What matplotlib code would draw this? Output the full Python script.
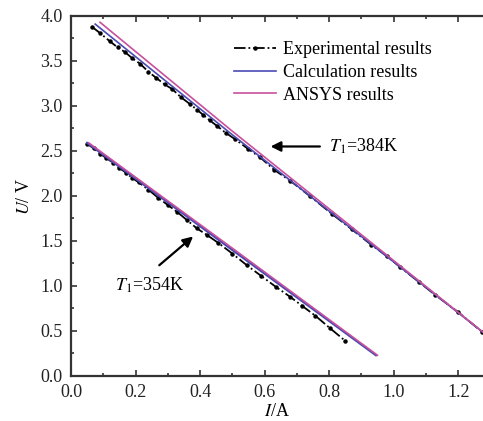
import matplotlib
matplotlib.use("Agg")
import matplotlib.pyplot as plt
from matplotlib.ticker import MultipleLocator

plt.rcParams['font.family'] = ['Liberation Serif', 'DejaVu Serif']
plt.rcParams['mathtext.fontset'] = 'stix'

# T1 = 384K
exp384_i = [0.065, 0.09, 0.12, 0.145, 0.167, 0.19, 0.214, 0.24, 0.265, 0.29, 0.313,
            0.34, 0.369, 0.39, 0.41, 0.43, 0.452, 0.48, 0.509, 0.55, 0.586, 0.63,
            0.679, 0.74, 0.809, 0.87, 0.93, 0.98, 1.02, 1.08, 1.129, 1.2, 1.274]
exp384_u = [3.88, 3.81, 3.72, 3.65, 3.60, 3.53, 3.47, 3.38, 3.31, 3.24, 3.19,
            3.10, 3.02, 2.96, 2.90, 2.84, 2.78, 2.70, 2.63, 2.52, 2.43, 2.29,
            2.17, 2.00, 1.80, 1.63, 1.46, 1.33, 1.21, 1.04, 0.90, 0.71, 0.49]
calc384_i = [0.075, 0.5, 0.9, 1.3]
calc384_u = [3.91, 2.68, 1.55, 0.42]
ansys384_i = [0.09, 0.5, 0.9, 1.3]
ansys384_u = [3.93, 2.72, 1.57, 0.42]

# T1 = 354K
exp354_i = [0.05, 0.07, 0.09, 0.11, 0.13, 0.15, 0.17, 0.19, 0.21, 0.24, 0.27, 0.30,
            0.33, 0.36, 0.39, 0.42, 0.456, 0.50, 0.545, 0.59, 0.635, 0.679, 0.716,
            0.757, 0.803, 0.85]
exp354_u = [2.58, 2.53, 2.47, 2.42, 2.37, 2.31, 2.26, 2.20, 2.15, 2.07, 1.98, 1.90,
            1.82, 1.73, 1.64, 1.57, 1.48, 1.36, 1.23, 1.11, 0.99, 0.88, 0.78,
            0.67, 0.53, 0.39]
calc354_i = [0.05, 0.5, 0.945]
calc354_u = [2.59, 1.40, 0.23]
ansys354_i = [0.055, 0.5, 0.95]
ansys354_u = [2.59, 1.42, 0.23]

blue = '#4a4ab4'
pink = '#c8509c'
dark = '#333333'

fig = plt.figure(figsize=(4.83, 4.21), dpi=100)
ax = fig.add_axes([0.147, 0.107, 0.853, 0.855])

ax.plot(exp384_i, exp384_u, color='black', ls='-.', lw=1.3, marker='o', ms=2.2,
        label='Experimental results')
ax.plot(calc384_i, calc384_u, color=blue, lw=1.2, label='Calculation results')
ax.plot(ansys384_i, ansys384_u, color=pink, lw=1.2, label='ANSYS results')
ax.plot(exp354_i, exp354_u, color='black', ls='-.', lw=1.3, marker='o', ms=2.2)
ax.plot(calc354_i, calc354_u, color=blue, lw=1.6)
ax.plot(ansys354_i, ansys354_u, color=pink, lw=1.2)

ax.set_xlim(0, 1.277)
ax.set_ylim(0, 4.0)
ax.xaxis.set_major_locator(MultipleLocator(0.2))
ax.xaxis.set_minor_locator(MultipleLocator(0.1))
ax.yaxis.set_major_locator(MultipleLocator(0.5))
ax.yaxis.set_minor_locator(MultipleLocator(0.25))
ax.tick_params(which='both', direction='in', top=True, right=False, labelsize=13,
               width=1.2, color=dark, labelcolor='#222222')
ax.tick_params(which='major', length=4.5)
ax.tick_params(which='minor', length=2.5)
ax.tick_params(axis='x', pad=6)
ax.tick_params(axis='y', pad=6)
for s in ['left', 'bottom', 'top']:
    ax.spines[s].set_linewidth(1.6)
    ax.spines[s].set_color(dark)
ax.spines['right'].set_visible(False)

ax.set_xlabel('$I$/A', fontsize=13, labelpad=1)
ax.set_ylabel('$U$/ V', fontsize=13, labelpad=5)

ax.legend(loc='upper right', bbox_to_anchor=(0.915, 0.975), frameon=False, fontsize=13,
          handlelength=2.3, handletextpad=0.4, labelspacing=0.32)

ax.annotate('', xy=(0.61, 2.55), xytext=(0.78, 2.55),
            arrowprops=dict(arrowstyle='-|>', color='black', lw=1.6, mutation_scale=15))
ax.text(0.80, 2.55, '$T_1$=384K', fontsize=13, va='center')
ax.annotate('', xy=(0.385, 1.57), xytext=(0.267, 1.21),
            arrowprops=dict(arrowstyle='-|>', color='black', lw=1.6, mutation_scale=15))
ax.text(0.135, 1.01, '$T_1$=354K', fontsize=13, va='center')

fig.savefig('out.png', dpi=100)
